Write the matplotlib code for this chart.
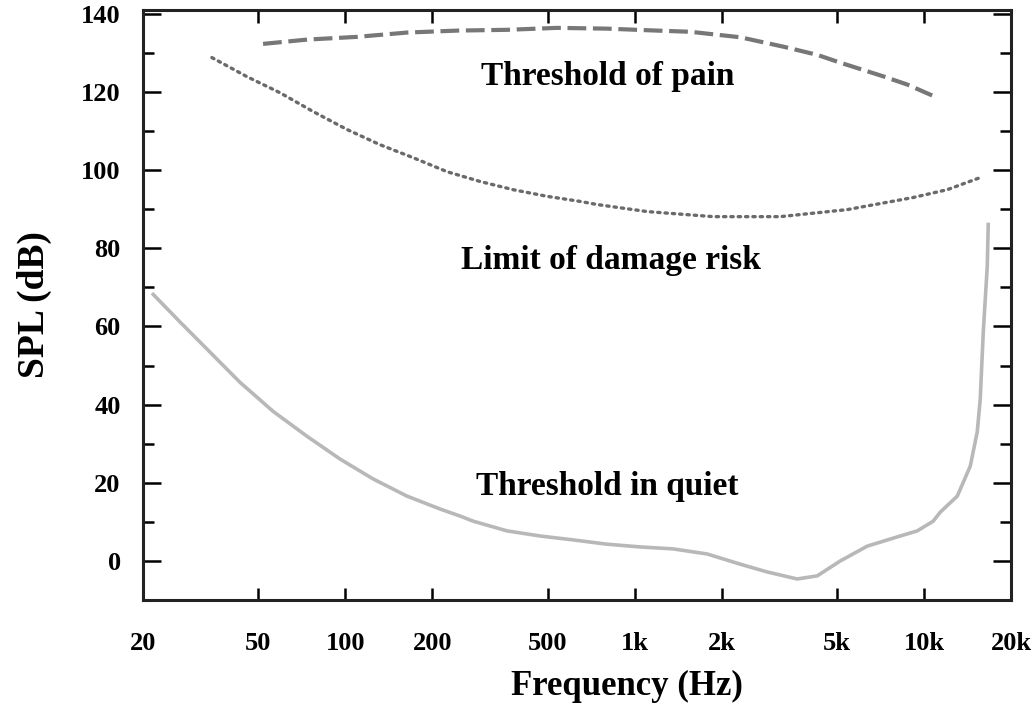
import matplotlib
matplotlib.use("Agg")
import matplotlib.pyplot as plt
from matplotlib.ticker import FixedLocator, MultipleLocator, NullLocator

# Threshold of pain (dashed)
pain_f = [52, 73.8, 110, 163.5, 243.5, 362.6, 540, 803, 1196, 1556, 2315, 3260,
          4274, 5133, 7228, 8748, 10670]
pain_db = [132.3, 133.4, 134.1, 135.2, 135.7, 135.9, 136.4, 136.2, 135.7, 135.4,
           134.0, 131.6, 129.5, 127.5, 124.0, 121.9, 119.1]

# Limit of damage risk (dotted)
damage_f = [34.6, 45.8, 59.5, 77.4, 101.4, 131.9, 171.5, 224.8, 292.4, 380.2,
            498.4, 648, 742, 1105, 1869, 3183, 5426, 9175, 12030, 15640]
damage_db = [128.8, 123.9, 119.8, 115.0, 110.4, 106.5, 103.2, 99.6, 97.1, 95.0,
             93.3, 92.0, 91.2, 89.4, 88.1, 88.1, 89.9, 93.0, 95.0, 98.1]

# Threshold in quiet (solid)
quiet_f = [21.7, 26.9, 33.3, 43.3, 56.3, 73.8, 95.9, 124.8, 163.5, 212.7, 249.4,
           276.6, 362.6, 471.5, 613, 803, 1045, 1359, 1781, 2315, 2871, 3645,
           4274, 5133, 6363, 8274, 9474, 10760, 11380, 13030, 14450, 15270,
           15640, 16020, 16540, 16670]
quiet_db = [68.2, 61.1, 54.2, 45.7, 38.3, 31.9, 26.1, 21.0, 16.6, 13.3, 11.5,
            10.2, 7.7, 6.4, 5.4, 4.3, 3.6, 3.1, 1.8, -0.8, -2.8, -4.6, -3.8,
            0.0, 3.8, 6.4, 7.7, 10.2, 12.5, 16.6, 24.3, 33.0, 41.4, 58.5,
            75.4, 86.1]

x_ticks = [20, 50, 100, 200, 500, 1000, 2000, 5000, 10000, 20000]
x_labels = ["20", "50", "100", "200", "500", "1k", "2k", "5k", "10k", "20k"]
y_ticks = [0, 20, 40, 60, 80, 100, 120, 140]

FONT = "Liberation Serif"

fig = plt.figure(figsize=(10.36, 7.06), dpi=100)
ax = fig.add_axes([0.138, 0.150, 0.838, 0.836])

ax.plot(pain_f, pain_db, color="#777777", linewidth=3.0, linestyle=(0, (4.5, 1.6)))
ax.plot(damage_f, damage_db, color="#6a6a6a", linewidth=2.4, linestyle=(0, (0.7, 1.5)),
        dash_capstyle="round")
ax.plot(quiet_f, quiet_db, color="#b8b8b8", linewidth=2.6)

ax.set_xscale("log")
ax.set_xlim(20, 20000)
ax.set_ylim(-10, 141)

ax.xaxis.set_major_locator(FixedLocator(x_ticks))
ax.set_xticklabels(x_labels)
ax.xaxis.set_minor_locator(NullLocator())
ax.yaxis.set_major_locator(FixedLocator(y_ticks))
ax.yaxis.set_minor_locator(MultipleLocator(10))

ax.tick_params(axis="x", which="major", direction="in", length=9, width=1.8,
               top=True, bottom=True, pad=23)
ax.tick_params(axis="y", which="major", direction="in", length=13, width=1.8,
               left=True, right=True, pad=16)
ax.tick_params(axis="y", which="minor", direction="in", length=8, width=1.8,
               left=True, right=True)

for lab in ax.get_xticklabels() + ax.get_yticklabels():
    lab.set_fontfamily(FONT)
    lab.set_fontweight("bold")
    lab.set_fontsize(19)

for sp in ax.spines.values():
    sp.set_linewidth(2.2)
    sp.set_color("#222222")

ax.set_xlabel("Frequency (Hz)", fontfamily=FONT, fontweight="bold", fontsize=25, labelpad=11)
ax.xaxis.label.set_x(0.558)
ax.set_ylabel("SPL (dB)", fontfamily=FONT, fontweight="bold", fontsize=27, labelpad=21)

ax.text(806, 124, "Threshold of pain", ha="center", va="center",
        fontfamily=FONT, fontweight="bold", fontsize=24)
ax.text(830, 77, "Limit of damage risk", ha="center", va="center",
        fontfamily=FONT, fontweight="bold", fontsize=24)
ax.text(806, 19, "Threshold in quiet", ha="center", va="center",
        fontfamily=FONT, fontweight="bold", fontsize=24)

plt.savefig("out.png", dpi=100)
